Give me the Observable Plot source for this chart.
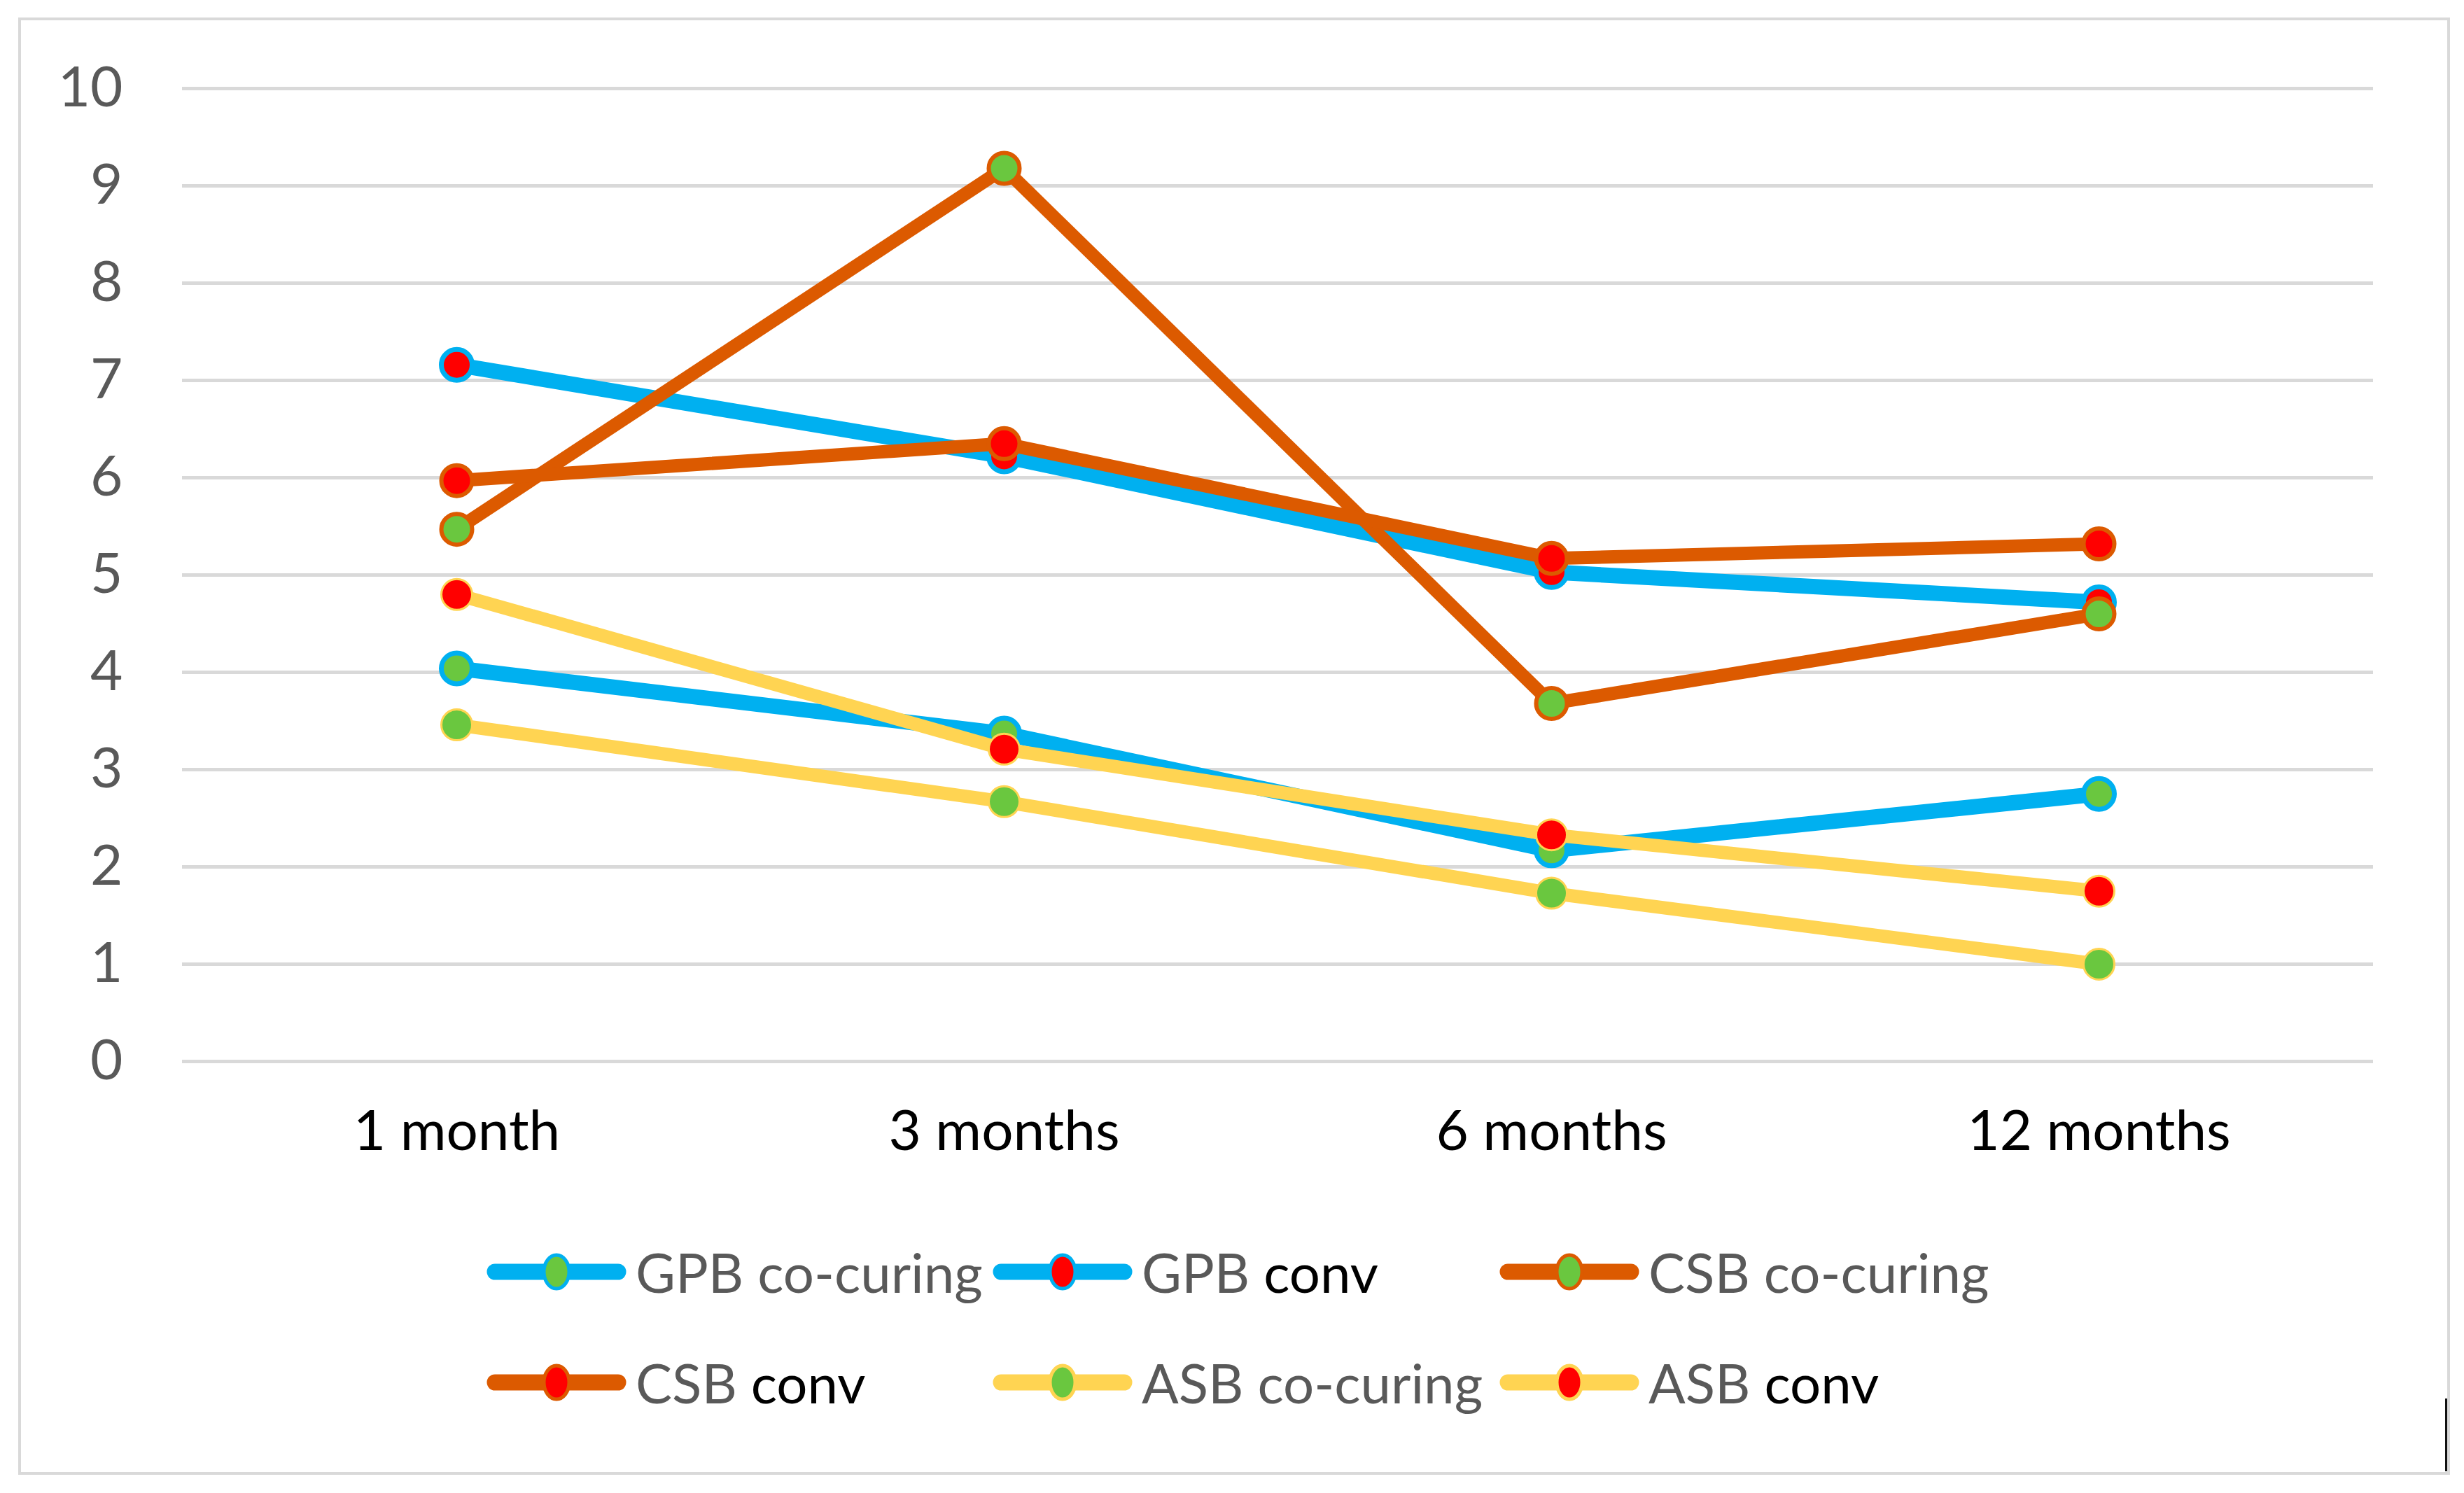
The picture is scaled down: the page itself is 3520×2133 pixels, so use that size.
<!DOCTYPE html>
<html>
<head>
<meta charset="utf-8">
<script src="https://cdn.jsdelivr.net/npm/d3@7"></script>
<script src="https://cdn.jsdelivr.net/npm/@observablehq/plot@0.6"></script>
<style>
  html, body { margin: 0; padding: 0; background: #ffffff; }
  #wrap { position: relative; width: 3520px; height: 2133px; background: #ffffff; font-family: Lato, "Open Sans", sans-serif; overflow: hidden; }
  #frame { position: absolute; left: 26px; top: 25px; width: 3466px; height: 2074px; border: 4px solid #d9d9d9; box-sizing: content-box; pointer-events: none; }
  #tick { position: absolute; left: 3493px; top: 1998px; width: 3px; height: 104px; background: #111; }
  #chart svg { display: block; }
  #legend { position: relative; height: 413px; box-sizing: border-box; padding-top: 57px; padding-left: 695px;
            display: grid; grid-template-columns: 723px 724px 724px; grid-auto-rows: 80px; row-gap: 78px; }
  .item { display: flex; align-items: center; height: 80px; }
  .item svg { flex: none; }
  .item span.lab { margin-left: 13px; font-size: 78px; line-height: 80px; color: #595959; white-space: nowrap; }
  .item span.dark { color: #000000; }
</style>
</head>
<body>
<div id="wrap">
  <div id="chart"></div>
  <div id="legend"></div>
  <div id="frame"></div>
  <div id="tick"></div>
</div>
<script>
// ---- data ----
const categories = ["1 month", "3 months", "6 months", "12 months"];
const yTicks = [0, 1, 2, 3, 4, 5, 6, 7, 8, 9, 10];

const seriesNames = ["GPB co-curing", "GPB conv", "CSB co-curing", "CSB conv", "ASB co-curing", "ASB conv"];
const gpbCoCuring  = [4.04, 3.37, 2.17, 2.75];
const gpbConv      = [7.16, 6.22, 5.03, 4.72];
const csbCoCuring  = [5.47, 9.18, 3.68, 4.60];
const csbConv      = [5.97, 6.35, 5.17, 5.32];
const asbCoCuring  = [3.46, 2.67, 1.73, 1.00];
const asbConv      = [4.80, 3.21, 2.33, 1.75];

const lineColors   = ["#00b0f0", "#00b0f0", "#dc5a00", "#dc5a00", "#ffd452", "#ffd452"];
const markerFills  = ["#6ac73f", "#ff0000", "#6ac73f", "#ff0000", "#6ac73f", "#ff0000"];

const seriesValues = [gpbCoCuring, gpbConv, csbCoCuring, csbConv, asbCoCuring, asbConv];
const lineWidths   = [22, 22, 19, 19, 19, 19];
const markerStroke = [7, 7, 6, 6, 3, 3];

const rows = seriesNames.map((name, i) =>
  categories.map((c, j) => ({series: name, time: c, value: seriesValues[i][j]}))
);

// ---- chart ----
const seriesMarks = rows.flatMap((data, i) => [
  Plot.line(data, {x: "time", y: "value", stroke: lineColors[i], strokeWidth: lineWidths[i], strokeLinejoin: "round", strokeLinecap: "round"}),
  Plot.dot(data, {x: "time", y: "value", r: 22, fill: markerFills[i], stroke: lineColors[i], strokeWidth: markerStroke[i]})
]);

const chart = Plot.plot({
  width: 3520,
  height: 1720,
  marginTop: 126,
  marginBottom: 204,
  marginLeft: 260,
  marginRight: 130,
  style: {fontFamily: "Lato, 'Open Sans', sans-serif", background: "transparent"},
  x: {type: "point", domain: categories, padding: 0.5},
  y: {domain: [0, 10]},
  marks: [
    Plot.gridY(yTicks, {stroke: "#d9d9d9", strokeOpacity: 1, strokeWidth: 5}),
    Plot.axisY(yTicks, {tickSize: 0, tickPadding: 85, fontSize: 80, fill: "#595959", label: null, tickFormat: d => String(d)}),
    Plot.axisX({tickSize: 0, tickPadding: 70, fontSize: 80, fill: "#000000", label: null}),
    ...seriesMarks
  ]
});
document.getElementById("chart").appendChild(chart);

// ---- legend ----
const legend = document.getElementById("legend");
const ns = "http://www.w3.org/2000/svg";
seriesNames.forEach((name, i) => {
  const item = document.createElement("div");
  item.className = "item";
  const sw = document.createElementNS(ns, "svg");
  sw.setAttribute("width", 200);
  sw.setAttribute("height", 80);
  const ln = document.createElementNS(ns, "line");
  ln.setAttribute("x1", 12); ln.setAttribute("x2", 188);
  ln.setAttribute("y1", 40); ln.setAttribute("y2", 40);
  ln.setAttribute("stroke", lineColors[i]);
  ln.setAttribute("stroke-width", 23);
  ln.setAttribute("stroke-linecap", "round");
  sw.appendChild(ln);
  const el = document.createElementNS(ns, "ellipse");
  el.setAttribute("cx", 100); el.setAttribute("cy", 40);
  el.setAttribute("rx", 18); el.setAttribute("ry", 24);
  el.setAttribute("fill", markerFills[i]);
  el.setAttribute("stroke", lineColors[i]);
  el.setAttribute("stroke-width", 5);
  sw.appendChild(el);
  item.appendChild(sw);
  const lab = document.createElement("span");
  lab.className = "lab";
  const parts = name.split(" ");
  const first = document.createElement("span");
  first.textContent = parts[0] + " ";
  lab.appendChild(first);
  const second = document.createElement("span");
  second.textContent = parts.slice(1).join(" ");
  if (parts[1] === "conv") second.className = "dark";
  lab.appendChild(second);
  item.appendChild(lab);
  legend.appendChild(item);
});
</script>
</body>
</html>
